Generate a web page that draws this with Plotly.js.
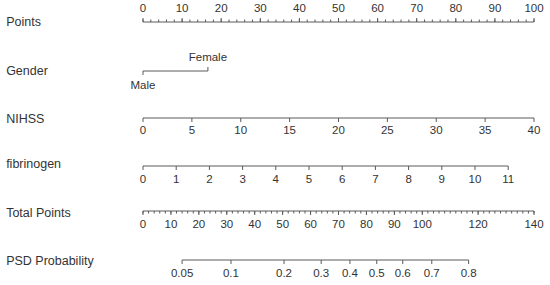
<!DOCTYPE html>
<html>
<head>
<meta charset="utf-8">
<script src="https://cdn.plot.ly/plotly-3.0.1.min.js"></script>
<style>
  html, body { margin: 0; padding: 0; background: #fff; }
  #chart { width: 550px; height: 285px; }
</style>
</head>
<body>
<div id="chart"></div>
<script>
// nomogram scales, values
const rowNames = ['Points', 'Gender', 'NIHSS', 'fibrinogen', 'Total Points', 'PSD Probability'];

const pointsTicks = [0, 10, 20, 30, 40, 50, 60, 70, 80, 90, 100];
const genderLabels = ['Male', 'Female'];
const genderPoints = [0, 16.6];
const nihssTicks = [0, 5, 10, 15, 20, 25, 30, 35, 40];
const nihssMaxPoints = 100;     // NIHSS 40 -> 100 points
const fibTicks = [0, 1, 2, 3, 4, 5, 6, 7, 8, 9, 10, 11];
const fibMaxPoints = 93.4;      // fibrinogen 11 -> 93.4 points
const totalTicks = [0, 10, 20, 30, 40, 50, 60, 70, 80, 90, 100, 120, 140];
const totalMax = 140;
const psdLabels = ['0.05', '0.1', '0.2', '0.3', '0.4', '0.5', '0.6', '0.7', '0.8'];
const psdTotalPoints = [14.0, 31.5, 50.5, 63.8, 74.1, 83.7, 93.0, 103.4, 116.6];

// layout (pixel rows, y axis is in pixels)
const rowY = [22, 71, 118, 166, 211, 260];
const nameY = [23, 72, 120, 165, 214, 262];
const pxPerPt = 3.91, x0px = 143, W = 550, H = 285;
const lineColor = '#5a5a5a', textColor = '#333333';
const font = 'Liberation Sans, Arial, sans-serif';

const traces = [];

function seg(xs, ys) { return { x: xs, y: ys, type: 'scatter', mode: 'lines', line: { color: lineColor, width: 1 }, hoverinfo: 'skip', showlegend: false }; }
function txt(xs, ys, labels, pos, size) {
  return { x: xs, y: ys, text: labels, type: 'scatter', mode: 'text', textposition: pos,
    textfont: { family: font, size: size || 11.5, color: textColor }, hoverinfo: 'skip', showlegend: false, cliponaxis: false };
}

// a scale: line from first to last, ticks (dir -1 up, +1 down), labels
function scale(y, majorPts, labels, dir, minorPts, labelY) {
  const lx = [majorPts[0], majorPts[majorPts.length - 1]];
  traces.push(seg(lx, [y, y]));
  const tx = [], ty = [];
  (minorPts || []).forEach(p => { tx.push(p, p, null); ty.push(y, y + dir * 2.5, null); });
  majorPts.forEach(p => { tx.push(p, p, null); ty.push(y, y + dir * 4, null); });
  traces.push(seg(tx, ty));
  traces.push(txt(majorPts, majorPts.map(() => labelY), labels, 'middle center'));
}

// Points
const ptsMinor = [];
for (let v = 0; v <= 100; v += 2) ptsMinor.push(v);
scale(rowY[0], pointsTicks, pointsTicks.map(String), -1, ptsMinor, 9);

// Gender
traces.push(seg(genderPoints, [rowY[1], rowY[1]]));
traces.push(seg([genderPoints[0], genderPoints[0], null, genderPoints[1], genderPoints[1]],
                [rowY[1], rowY[1] + 4, null, rowY[1], rowY[1] - 4]));
traces.push(txt([genderPoints[0]], [86], [genderLabels[0]], 'middle center'));
traces.push(txt([genderPoints[1]], [58], [genderLabels[1]], 'middle center'));

// NIHSS
const nihssPts = nihssTicks.map(v => v * nihssMaxPoints / 40);
scale(rowY[2], nihssPts, nihssTicks.map(String), 1, null, 131);

// fibrinogen
const fibPts = fibTicks.map(v => v * fibMaxPoints / 11);
scale(rowY[3], fibPts, fibTicks.map(String), 1, null, 180);

// Total Points
const totMinor = [];
for (let v = 0; v <= totalMax; v += 2) totMinor.push(v * 100 / totalMax);
scale(rowY[4], totalTicks.map(v => v * 100 / totalMax), totalTicks.map(String), 1, totMinor, 225);

// PSD Probability
scale(rowY[5], psdTotalPoints.map(v => v * 100 / totalMax), psdLabels, 1, null, 274);

// row names
traces.push(txt(rowNames.map(() => -35), nameY, rowNames, 'middle right', 12.5));

const layout = {
  width: W, height: H,
  margin: { l: 0, r: 0, t: 0, b: 0 },
  paper_bgcolor: '#fff', plot_bgcolor: '#fff',
  xaxis: { range: [-x0px / pxPerPt, (W - x0px) / pxPerPt], visible: false, fixedrange: true },
  yaxis: { range: [H, 0], visible: false, fixedrange: true },
  showlegend: false
};

Plotly.newPlot('chart', traces, layout, { displayModeBar: false, staticPlot: true });
</script>
</body>
</html>
